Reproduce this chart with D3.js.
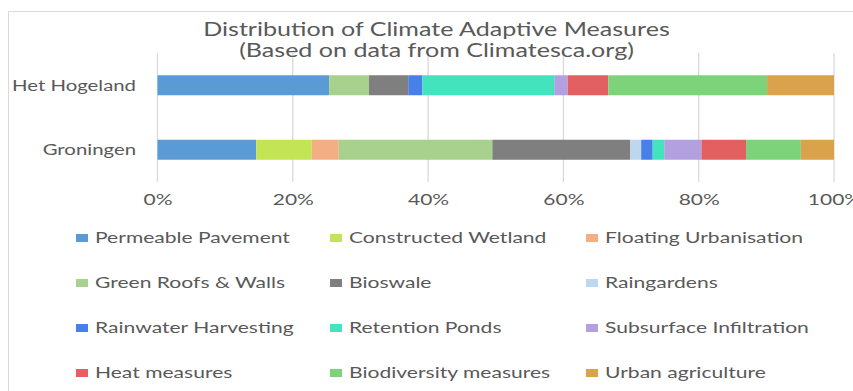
<!DOCTYPE html>
<html><head><meta charset="utf-8">
<script src="https://cdn.jsdelivr.net/npm/d3@7"></script>
<style>
html,body{margin:0;padding:0;background:#fff;}
svg text{font-family:Lato,"Open Sans",sans-serif;fill:#595959;}
</style></head>
<body><svg id="c" width="853" height="391"></svg>
<script>
const categories = ["Het Hogeland", "Groningen"];
const measures = ["Permeable Pavement","Constructed Wetland","Floating Urbanisation",
  "Green Roofs & Walls","Bioswale","Raingardens",
  "Rainwater Harvesting","Retention Ponds","Subsurface Infiltration",
  "Heat measures","Biodiversity measures","Urban agriculture"];
const hetHogeland = [25.4, 0, 0, 5.9, 5.8, 0, 2.1, 19.5, 2.0, 6.0, 23.5, 9.9];
const groningen   = [14.6, 8.2, 4.0, 22.7, 20.4, 1.6, 1.7, 1.7, 5.5, 6.6, 8.1, 4.9];
const tickValues = [0, 0.2, 0.4, 0.6, 0.8, 1.0];
const tickLabels = ["0%","20%","40%","60%","80%","100%"];
const colors = ["#5B9BD5","#C3E453","#F4AE84","#A8D18D","#7F7F7F","#BDD7EE",
  "#4680E8","#43E3BE","#B3A0E0","#E45F5F","#7CD37A","#D9A24B"];
const titleLines = ["Distribution of Climate Adaptive Measures","(Based on data from Climatesca.org)"];

const svg = d3.select("#c");
function stretchFor(str, size, target){
  const t = svg.append("text").style("font-size", size+"px").text(str);
  const w = t.node().getComputedTextLength(); t.remove();
  return target / w;
}
const Ktitle = stretchFor(titleLines[0], 18.5, 467);
const Kcat = stretchFor(categories[0], 16, 124);
const Kleg = stretchFor(measures[0], 14.5, 195);
const Ktick = stretchFor("0%", 14.5, 29);

// frame
svg.append("path").attr("d","M8.5,400 V11.5 H900").attr("fill","none").attr("stroke","#D9D9D9");

const x = d3.scaleLinear().domain([0,1]).range([157.5, 834]);
const y = d3.scaleBand().domain(categories).range([53, 182]).paddingInner(0.69).paddingOuter(0.345);

// gridlines
svg.append("g").selectAll("line").data(tickValues).join("line")
  .attr("x1", d=>x(d)).attr("x2", d=>x(d)).attr("y1", 53).attr("y2", 182)
  .attr("stroke","#D9D9D9").attr("stroke-width",1.3);

// data table
const rows = categories.map((c,i)=>{
  const vals = i===0 ? hetHogeland : groningen;
  const o = {category:c};
  measures.forEach((m,j)=>o[m]=vals[j]);
  return o;
});
const series = d3.stack().keys(measures).offset(d3.stackOffsetExpand)(rows);
svg.append("g").selectAll("g").data(series).join("g")
  .attr("fill",(d,i)=>colors[i])
  .selectAll("rect").data(d=>d).join("rect")
  .attr("x", d=>x(d[0])).attr("width", d=>Math.max(0,x(d[1])-x(d[0])))
  .attr("y", d=>y(d.data.category)).attr("height", y.bandwidth());

// category labels
svg.append("g").selectAll("text").data(categories).join("text")
  .attr("transform", d=>`translate(136,${y(d)+y.bandwidth()/2}) scale(${Kcat},1)`)
  .attr("text-anchor","end").attr("dy","0.35em").style("font-size","16px").text(d=>d);

// x axis
const ax = svg.append("g").attr("transform","translate(0,182)")
  .call(d3.axisBottom(x).tickValues(tickValues).tickFormat((d,i)=>tickLabels[i]).tickSize(0).tickPadding(13));
ax.select(".domain").remove();
ax.selectAll("text").attr("fill","#595959").style("font-size","14.5px").style("font-family","Lato")
  .attr("transform",`scale(${Ktick},1)`);

// title
svg.append("g").selectAll("text").data(titleLines).join("text")
  .attr("transform",(d,i)=>`translate(436.5,${36+i*21}) scale(${Ktitle},1)`)
  .attr("text-anchor","middle").style("font-size","18.5px").text(d=>d);

// legend
const colX = [76, 330, 586];
const rowY = [238, 283, 328, 373];
const lg = svg.append("g").selectAll("g").data(measures).join("g")
  .attr("transform",(d,i)=>`translate(${colX[i%3]},${rowY[Math.floor(i/3)]})`);
lg.append("rect").attr("x",0).attr("y",-4).attr("width",12).attr("height",8).attr("fill",(d,i)=>colors[i]);
lg.append("text").attr("transform",`translate(19,0) scale(${Kleg},1)`).attr("dy","0.35em")
  .style("font-size","14.5px").text(d=>d);
</script></body></html>
